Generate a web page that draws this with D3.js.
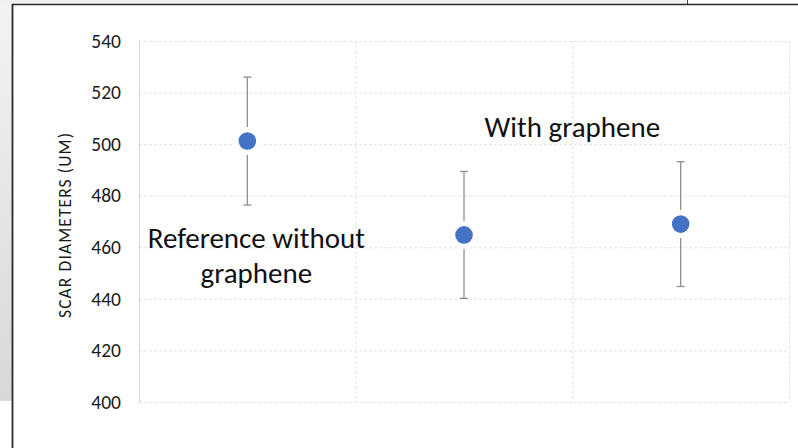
<!DOCTYPE html>
<html><head><meta charset="utf-8">
<script src="https://cdn.jsdelivr.net/npm/d3@7"></script>
<style>html,body{margin:0;padding:0;background:#fff;overflow:hidden}svg{display:block}</style>
</head><body>
<svg id="c" width="798" height="448"></svg>
<script>
const categories = ["Reference without graphene", "With graphene A", "With graphene B"];
const means = [501.2, 464.8, 469.0];
const errors = [24.8, 24.6, 24.2];
const yTicks = [400, 420, 440, 460, 480, 500, 520, 540];
const yTitle = "SCAR DIAMETERS (UM)";

const svg = d3.select("#c");
const FONT = "Carlito, Lato, 'Liberation Sans', sans-serif";

// background frame
const defs = svg.append("defs");
const g1 = defs.append("linearGradient").attr("id","bg").attr("x1",0).attr("y1",0).attr("x2",0).attr("y2",1);
g1.append("stop").attr("offset","0").attr("stop-color","#f3f3f3");
g1.append("stop").attr("offset","1").attr("stop-color","#d8d8d8");
svg.append("rect").attr("x",0).attr("y",0).attr("width",13).attr("height",401).attr("fill","url(#bg)");
svg.append("rect").attr("x",0).attr("y",0).attr("width",687).attr("height",5).attr("fill","#f1f1f1");
svg.append("line").attr("x1",687.5).attr("x2",687.5).attr("y1",0).attr("y2",5).attr("stroke","#444").attr("stroke-width",1);
svg.append("line").attr("x1",12).attr("x2",798).attr("y1",4.5).attr("y2",4.5).attr("stroke","#2a2a2a").attr("stroke-width",1.6);
svg.append("line").attr("x1",12.5).attr("x2",12.5).attr("y1",4).attr("y2",448).attr("stroke","#2a2a2a").attr("stroke-width",1.8);

const x = d3.scaleBand().domain(categories).range([139, 789]).padding(0);
const y = d3.scaleLinear().domain([400, 540]).range([402, 41]);

// horizontal gridlines
svg.append("g").selectAll("line").data(yTicks).join("line")
  .attr("x1", 139).attr("x2", 789)
  .attr("y1", d => y(d) + 0.5).attr("y2", d => y(d) + 0.5)
  .attr("stroke", "#e3e3e3").attr("stroke-width", 1).attr("stroke-dasharray", "3,2");

// vertical gridlines at band boundaries
const bounds = categories.slice(1).map(c => x(c)).concat([x.range()[1]]);
svg.append("g").selectAll("line").data(bounds).join("line")
  .attr("x1", d => d + 0.5).attr("x2", d => d + 0.5)
  .attr("y1", y(540)).attr("y2", y(400))
  .attr("stroke", "#e3e3e3").attr("stroke-width", 1).attr("stroke-dasharray", "3,2");

// left axis line
svg.append("line").attr("x1", 139.5).attr("x2", 139.5).attr("y1", y(540)).attr("y2", y(400))
  .attr("stroke", "#d6d6d6").attr("stroke-width", 1);

// y axis labels
const yAxis = d3.axisLeft(y).tickValues(yTicks).tickSize(0).tickPadding(18);
const ya = svg.append("g").attr("transform", "translate(139,0)").call(yAxis);
ya.select(".domain").remove();
ya.selectAll("text").attr("font-family", FONT).attr("font-size", 19.5).attr("fill", "#1a1a1a");

// y title
svg.append("text").attr("transform", `translate(71,${(y(400)+y(540))/2 + 4}) rotate(-90)`)
  .attr("text-anchor", "middle").attr("font-family", FONT).attr("font-size", 17.5)
  .attr("textLength", 185).attr("lengthAdjust", "spacing")
  .attr("fill", "#1a1a1a").text(yTitle);

const cx = c => x(c) + x.bandwidth() / 2;

// error bars
const eb = svg.append("g").selectAll("g").data(categories).join("g");
eb.append("line").attr("x1", d => cx(d)).attr("x2", d => cx(d))
  .attr("y1", (d,i) => y(means[i] + errors[i])).attr("y2", (d,i) => y(means[i] - errors[i]))
  .attr("stroke", "#8f8f8f").attr("stroke-width", 1.3);
eb.append("line").attr("x1", d => cx(d) - 4).attr("x2", d => cx(d) + 4)
  .attr("y1", (d,i) => y(means[i] + errors[i])).attr("y2", (d,i) => y(means[i] + errors[i]))
  .attr("stroke", "#8f8f8f").attr("stroke-width", 1.3);
eb.append("line").attr("x1", d => cx(d) - 4).attr("x2", d => cx(d) + 4)
  .attr("y1", (d,i) => y(means[i] - errors[i])).attr("y2", (d,i) => y(means[i] - errors[i]))
  .attr("stroke", "#8f8f8f").attr("stroke-width", 1.3);

// markers
svg.append("g").selectAll("circle.halo").data(categories).join("circle")
  .attr("cx", d => cx(d)).attr("cy", (d,i) => y(means[i])).attr("r", 14).attr("fill", "#fff");
svg.append("g").selectAll("circle.pt").data(categories).join("circle")
  .attr("cx", d => cx(d)).attr("cy", (d,i) => y(means[i])).attr("r", 8.8).attr("fill", "#4472C4");

// annotations
const t1 = svg.append("text").attr("text-anchor", "middle")
  .attr("font-family", FONT).attr("font-size", 29).attr("fill", "#111");
t1.append("tspan").attr("x", cx(categories[0]) + 9).attr("y", 248).text("Reference without");
t1.append("tspan").attr("x", cx(categories[0]) + 9).attr("y", 283).text("graphene");
svg.append("text").attr("text-anchor", "middle")
  .attr("font-family", FONT).attr("font-size", 29).attr("fill", "#111")
  .attr("x", x(categories[2])).attr("y", 137).text("With graphene");
</script>
</body></html>
